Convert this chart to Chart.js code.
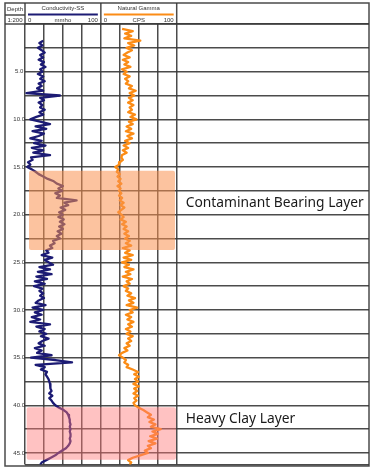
<!DOCTYPE html>
<html><head><meta charset="utf-8">
<script src="https://cdn.jsdelivr.net/npm/chart.js@4.4.1/dist/chart.umd.min.js"></script>
<style>html,body{margin:0;padding:0;background:#fff;}#wrap{width:372px;height:468px;position:relative;}</style>
</head><body><div id="wrap"><canvas id="c"></canvas></div>
<script>
// ---------- DATA ----------
const depths = [
 0.25,0.5,0.75,1,1.25,1.5,1.75,2,
 2.25,2.5,2.75,3,3.25,3.5,3.75,4,
 4.25,4.5,4.75,5,5.25,5.5,5.75,6,
 6.25,6.5,6.75,7,7.25,7.5,7.75,8,
 8.25,8.5,8.75,9,9.25,9.5,9.75,10,
 10.25,10.5,10.75,11,11.25,11.5,11.75,12,
 12.25,12.5,12.75,13,13.25,13.5,13.75,14,
 14.25,14.5,14.75,15,15.25,15.5,15.75,16,
 16.25,16.5,16.75,17,17.25,17.5,17.75,18,
 18.25,18.5,18.75,19,19.25,19.5,19.75,20,
 20.25,20.5,20.75,21,21.25,21.5,21.75,22,
 22.25,22.5,22.75,23,23.25,23.5,23.75,24,
 24.25,24.5,24.75,25,25.25,25.5,25.75,26,
 26.25,26.5,26.75,27,27.25,27.5,27.75,28,
 28.25,28.5,28.75,29,29.25,29.5,29.75,30,
 30.25,30.5,30.75,31,31.25,31.5,31.75,32,
 32.25,32.5,32.75,33,33.25,33.5,33.75,34,
 34.25,34.5,34.75,35,35.25,35.5,35.75,36,
 36.25,36.5,36.75,37,37.25,37.5,37.75,38,
 38.25,38.5,38.75,39,39.25,39.5,39.75,40,
 40.25,40.5,40.75,41,41.25,41.5,41.75,42,
 42.25,42.5,42.75,43,43.25,43.5,43.75,44,
 44.25,44.5,44.75,45,45.25,45.5,45.75,46,
 46.25];
const conductivity = [
 null,null,null,null,null,null,24,19,
 23,17,22,26,20,24,18,25,
 21,27,20,23,17,24,20,26,
 18,22,16,24,2,46,20,25,
 18,23,20,26,19,24,15,7,
 20,33,14,28,10,25,18,7,
 22,12,27,9,24,11,33,8,
 10,4,7,3,9,14,18,24,
 30,38,42,50,44,49,40,46,
 42,68,52,57,47,53,45,50,
 44,51,46,52,45,50,43,48,
 42,46,37,39,33,36,28,31,
 22,36,26,31,37,19,33,17,
 35,15,29,13,26,12,23,19,
 24,20,25,18,14,27,10,24,
 13,22,9,20,7,33,15,26,
 19,28,21,31,23,18,26,13,
 22,16,35,8,40,62,14,26,
 21,29,27,29,31,32,33,34,
 33,35,32,36,32,35,37,40,
 45,51,55,57,58,59,59,60,
 59,60,59,60,60,59,60,59,
 57,54,49,44,40,34,28,22,
 20];
const gamma = [
 null,28,42,32,40,31,52,36,
 44,34,41,35,30,38,29,36,
 31,39,28,34,30,38,32,36,
 33,41,37,46,38,44,37,42,
 36,43,38,41,36,45,39,47,
 37,42,34,40,33,43,35,41,
 32,38,30,36,29,34,28,27,
 29,25,24,19,23,21,25,22,
 26,23,27,22,26,24,27,24,
 28,25,30,26,31,27,23,27,
 30,26,33,28,34,30,36,31,
 37,32,38,33,40,29,38,32,
 42,30,40,28,37,31,43,33,
 39,29,41,34,38,30,36,33,
 40,35,45,37,43,34,48,38,
 42,33,40,35,43,36,41,33,
 39,34,42,36,40,34,38,31,
 35,28,24,29,33,31,36,34,
 42,49,44,50,45,49,43,50,
 44,48,43,49,44,47,43,45,
 50,56,61,66,62,70,64,72,
 66,79,68,75,65,74,63,72,
 62,66,58,62,52,42,36,40,
 38];
const trackTitles = ['Conductivity-SS', 'Natural Gamma'];
const trackUnits = ['mmho', 'CPS'];
const trackMin = [0, 0];
const trackMax = [100, 100];
const trackGridValues = [0, 25, 50, 75, 100];
const depthLabelValues = [5, 10, 15, 20, 25, 30, 35, 40, 45];
const depthHeader = ['Depth', '1:200'];
const layerNames = ['Contaminant Bearing Layer', 'Heavy Clay Layer'];
const layerTop = [15.4, 40.2];
const layerBottom = [23.7, 45.7];

// ---------- STYLE / GEOMETRY ----------
const G = {
  W: 372, H: 468,
  frameLeft: 5, frameTop: 3, frameRight: 369, frameBottom: 466,
  headerBottom: 24, headerMid: 15,
  depthColRight: 25, trackWidth: 75.85,
  depthMax: 46.2
};
const S = {
  cond: '#1c1b74', gam: '#fb8c16', grid: 'rgba(55,55,55,0.9)',
  layerFill: ['rgba(250,145,80,0.55)', 'rgba(255,120,120,0.45)'],
  layerLabelDepth: [18.75, 41.4],
  layerRectLeftUnits: [5.3, 2.2], layerRectRightUnits: [97.8, 99]
};
const areaW = G.frameRight - G.depthColRight;
const unitsPerArea = areaW / G.trackWidth * 100;

const headerPlugin = {
  id: 'hdr',
  afterDatasetsDraw(chart) {
    const ctx = chart.ctx, y = chart.scales.y, xc = chart.scales.xc, xg = chart.scales.xg;
    for (let i = 0; i < layerNames.length; i++) {
      const x1 = xc.getPixelForValue(S.layerRectLeftUnits[i]);
      const x2 = xg.getPixelForValue(S.layerRectRightUnits[i]);
      const y1 = y.getPixelForValue(layerTop[i]);
      const y2 = y.getPixelForValue(layerBottom[i]);
      ctx.save();
      ctx.fillStyle = S.layerFill[i];
      ctx.beginPath();
      if (ctx.roundRect) ctx.roundRect(x1, y1, x2 - x1, y2 - y1, 2); else ctx.rect(x1, y1, x2 - x1, y2 - y1);
      ctx.fill();
      ctx.restore();
      ctx.save();
      ctx.fillStyle = '#1a1a1a';
      ctx.font = '13.8px "Noto Sans"';
      ctx.textBaseline = 'middle';
      ctx.textAlign = 'left';
      ctx.fillText(layerNames[i], xg.getPixelForValue(100) + 9, y.getPixelForValue(S.layerLabelDepth[i]));
      ctx.restore();
    }
  },
  afterDraw(chart) {
    const ctx = chart.ctx, xc = chart.scales.xc, xg = chart.scales.xg;
    ctx.save();
    ctx.strokeStyle = S.grid; ctx.lineWidth = 1.5;
    const line = (a, b, c, d) => { ctx.beginPath(); ctx.moveTo(a, b); ctx.lineTo(c, d); ctx.stroke(); };
    ctx.strokeRect(G.frameLeft, G.frameTop, G.frameRight - G.frameLeft, G.frameBottom - G.frameTop);
    line(G.frameLeft, G.headerBottom, G.frameRight, G.headerBottom);
    line(G.frameLeft, G.headerMid, G.depthColRight, G.headerMid);
    const tx = [xc.getPixelForValue(0), xc.getPixelForValue(100), xg.getPixelForValue(100)];
    tx.forEach(x => line(x, G.frameTop, x, G.headerBottom));
    ctx.fillStyle = '#333'; ctx.font = '6px "Liberation Sans"'; ctx.textBaseline = 'middle'; ctx.textAlign = 'center';
    const dc = (G.frameLeft + G.depthColRight) / 2;
    ctx.fillText(depthHeader[0], dc, 9);
    ctx.fillText(depthHeader[1], dc, 20);
    const scs = [xc, xg], cols = [S.cond, S.gam];
    for (let i = 0; i < 2; i++) {
      const s = scs[i];
      const a = s.getPixelForValue(trackMin[i]), b = s.getPixelForValue(trackMax[i]);
      const m = (a + b) / 2;
      ctx.fillStyle = '#333'; ctx.textAlign = 'center';
      ctx.fillText(trackTitles[i], m, 8.5);
      ctx.fillText(trackUnits[i], m, 20);
      ctx.textAlign = 'left'; ctx.fillText(String(trackMin[i]), a + 3, 20);
      ctx.textAlign = 'right'; ctx.fillText(String(trackMax[i]), b - 3, 20);
      ctx.strokeStyle = cols[i]; ctx.lineWidth = 2;
      line(a + 3, 14.5, b - 3, 14.5);
    }
    ctx.restore();
  }
};

const gridCfg = { color: S.grid, lineWidth: 1.5, drawTicks: false };
new Chart(document.getElementById('c'), {
  type: 'line',
  data: {
    datasets: [
      { label: trackTitles[0], xAxisID: 'xc', yAxisID: 'y',
        data: depths.map((d, i) => ({ x: conductivity[i], y: d })),
        borderColor: S.cond, borderWidth: 2.3, pointRadius: 0, tension: 0, borderJoinStyle: 'round', spanGaps: false },
      { label: trackTitles[1], xAxisID: 'xg', yAxisID: 'y',
        data: depths.map((d, i) => ({ x: gamma[i], y: d })),
        borderColor: S.gam, borderWidth: 2.3, pointRadius: 0, tension: 0, borderJoinStyle: 'round', spanGaps: false }
    ]
  },
  options: {
    responsive: true, maintainAspectRatio: false, animation: false,
    indexAxis: 'y',
    layout: { padding: { left: G.frameLeft, right: G.W - G.frameRight, top: G.headerBottom, bottom: G.H - G.frameBottom } },
    plugins: { legend: { display: false }, tooltip: { enabled: false } },
    scales: {
      y: {
        type: 'linear', position: 'left', reverse: true, min: 0, max: G.depthMax,
        afterFit: s => { s.width = G.depthColRight - G.frameLeft; },
        afterBuildTicks: s => { const t = []; for (let v = 0; v <= 45; v += 2.5) t.push({ value: v }); t.push({ value: G.depthMax }); s.ticks = t; },
        ticks: { autoSkip: false, padding: 0, crossAlign: 'center', color: '#333', font: { size: 6, family: 'Liberation Sans' },
                 callback: v => depthLabelValues.includes(v) ? v.toFixed(1) : '' },
        grid: gridCfg, border: { display: false }
      },
      xc: {
        type: 'linear', position: 'top', min: 0, max: unitsPerArea,
        afterBuildTicks: s => { s.ticks = trackGridValues.map(v => ({ value: v })); },
        afterFit: s => { s.height = 0; },
        ticks: { display: false }, grid: gridCfg, border: { display: false }
      },
      xg: {
        type: 'linear', position: 'top', min: -100, max: unitsPerArea - 100,
        afterBuildTicks: s => { s.ticks = trackGridValues.slice(1).map(v => ({ value: v })); },
        afterFit: s => { s.height = 0; },
        ticks: { display: false }, grid: gridCfg, border: { display: false }
      }
    }
  },
  plugins: [headerPlugin]
});
</script></body></html>
